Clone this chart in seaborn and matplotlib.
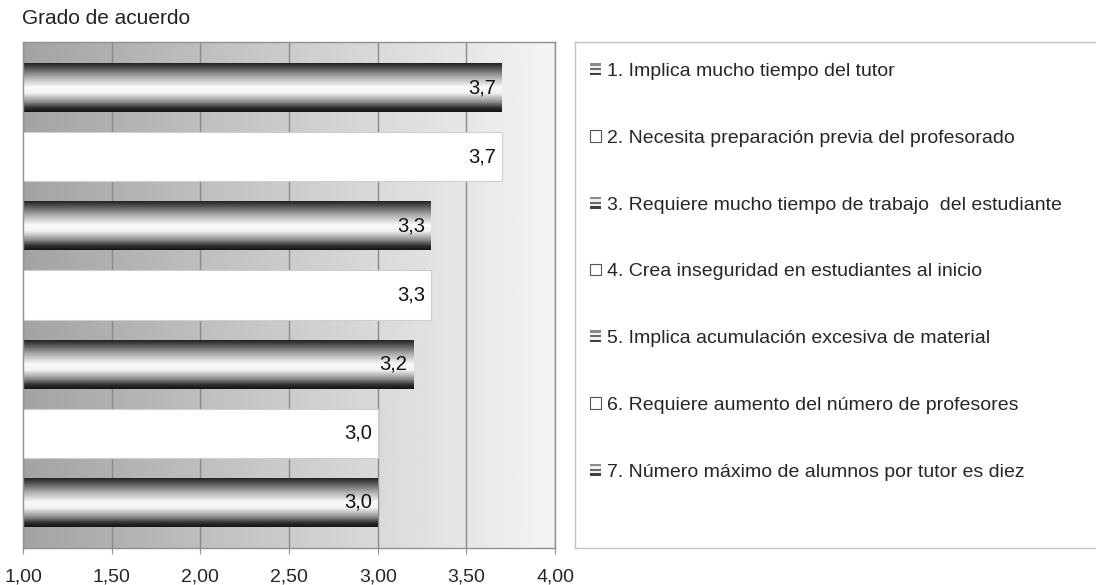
import numpy as np
import pandas as pd
import matplotlib
matplotlib.use("Agg")
import matplotlib.pyplot as plt
from matplotlib.patches import Patch, Rectangle
from matplotlib.legend_handler import HandlerBase
import seaborn as sns

# ============================================================
# DATOS
# ============================================================

items = [
    "1. Implica mucho tiempo del tutor",
    "2. Necesita preparación previa del profesorado",
    "3. Requiere mucho tiempo de trabajo  del estudiante",
    "4. Crea inseguridad en estudiantes al inicio",
    "5. Implica acumulación excesiva de material",
    "6. Requiere aumento del número de profesores",
    "7. Número máximo de alumnos por tutor es diez",
]
valores = [3.7, 3.7, 3.3, 3.3, 3.2, 3.0, 3.0]
estilo = ["metal", "blanco", "metal", "blanco", "metal", "blanco", "metal"]
x_ticks = [1.0, 1.5, 2.0, 2.5, 3.0, 3.5, 4.0]
titulo = "Grado de acuerdo"

# ============================================================
# CONFIGURACIÓN
# ============================================================

sns.set_style("white")
plt.rcParams["font.family"] = ["Liberation Sans", "DejaVu Sans"]

W, H = 1096, 585
fig = plt.figure(figsize=(W / 100, H / 100), dpi=100)
ax = fig.add_axes([23 / W, 37 / H, 532 / W, 506 / H])

XLIM = (1.0, 4.0)
YLIM = (6.66, -0.66)

df = pd.DataFrame({"item": items, "valor": valores})
paleta = {it: ("white" if e == "blanco" else "#808080") for it, e in zip(items, estilo)}

sns.barplot(data=df, x="valor", y="item", hue="item", palette=paleta,
            orient="h", width=0.71, legend=False, ax=ax, zorder=2)

# fondo degradado horizontal
fondo = np.linspace(0.64, 0.96, 256)[None, :]
ax.imshow(fondo, extent=(XLIM[0], XLIM[1], YLIM[0], YLIM[1]), aspect="auto",
          cmap="gray", vmin=0, vmax=1, zorder=0, interpolation="bicubic")

# degradado "metálico" vertical para las barras oscuras
perfil_pos = [0.0, 0.08, 0.3, 0.5, 0.62, 0.8, 0.92, 1.0]
perfil_val = [0.10, 0.25, 0.68, 0.98, 0.95, 0.55, 0.18, 0.08]
grad = np.interp(np.linspace(0, 1, 120), perfil_pos, perfil_val)[:, None]

for patch, e, v in zip(ax.patches, estilo, valores):
    y0, h = patch.get_y(), patch.get_height()
    if e == "blanco":
        patch.set_facecolor("white")
        patch.set_edgecolor("#cfcfcf")
        patch.set_linewidth(0.8)
    else:
        patch.set_edgecolor("none")
        x_ini = max(patch.get_x(), XLIM[0])
        im = ax.imshow(grad, extent=(x_ini, patch.get_x() + patch.get_width(), y0 + h, y0),
                       aspect="auto", cmap="gray", vmin=0, vmax=1, zorder=2.5,
                       interpolation="bilinear")
        im.set_clip_path(patch)
    ax.annotate(f"{v:.1f}".replace(".", ","), xy=(v, y0 + h / 2), xytext=(-4, 0),
                textcoords="offset points", ha="right", va="center",
                fontsize=14.5, color="#111111", zorder=4)

ax.set_xlim(*XLIM)
ax.set_ylim(*YLIM)
ax.set_axisbelow(True)
ax.xaxis.grid(True, color="#8a8a8a", linewidth=1)
ax.yaxis.grid(False)
ax.set_xticks(x_ticks)
ax.set_xticklabels([f"{t:.2f}".replace(".", ",") for t in x_ticks], fontsize=14)
ax.tick_params(axis="x", direction="out", length=4, color="#909090", pad=10.5, bottom=True)
ax.set_yticks([])
ax.set_xlabel("")
ax.set_ylabel("")
for s in ax.spines.values():
    s.set_color("#909090")
    s.set_linewidth(1)

fig.text(22 / W, 1 - 18 / H, titulo, ha="left", va="center", fontsize=15, color="#222222")

# ============================================================
# LEYENDA
# ============================================================


class HandlerRayas(HandlerBase):
    def create_artists(self, legend, orig_handle, xdescent, ydescent,
                       width, height, fontsize, trans):
        arts = []
        tonos = ["#8a8a8a", "#f0f0f0", "#6a6a6a", "#f0f0f0", "#404040"]
        n = len(tonos)
        for k, c in enumerate(tonos):
            r = Rectangle((-xdescent, -ydescent + height * (n - 1 - k) / n), width, height / n,
                          facecolor=c, edgecolor="none", transform=trans)
            arts.append(r)
        return arts


ax_leg = fig.add_axes([575 / W, 37 / H, 600 / W, 506 / H])
ax_leg.set_xticks([])
ax_leg.set_yticks([])
ax_leg.set_facecolor("white")
for s in ax_leg.spines.values():
    s.set_color("#c4c4c4")
    s.set_linewidth(1)

handles = []
handler_map = {}
for it, e in zip(items, estilo):
    p = Patch(facecolor="white", edgecolor="#555555", linewidth=0.8, label=it)
    if e == "metal":
        handler_map[p] = HandlerRayas()
    handles.append(p)

ax_leg.legend(handles=handles, labels=items, handler_map=handler_map,
              loc="upper left", bbox_to_anchor=(15 / 600, 1 - 21 / 506),
              frameon=False, fontsize=14, labelspacing=2.56,
              handlelength=0.55, handleheight=0.55, handletextpad=0.3,
              borderpad=0, borderaxespad=0)

fig.savefig("out.png", dpi=100)
